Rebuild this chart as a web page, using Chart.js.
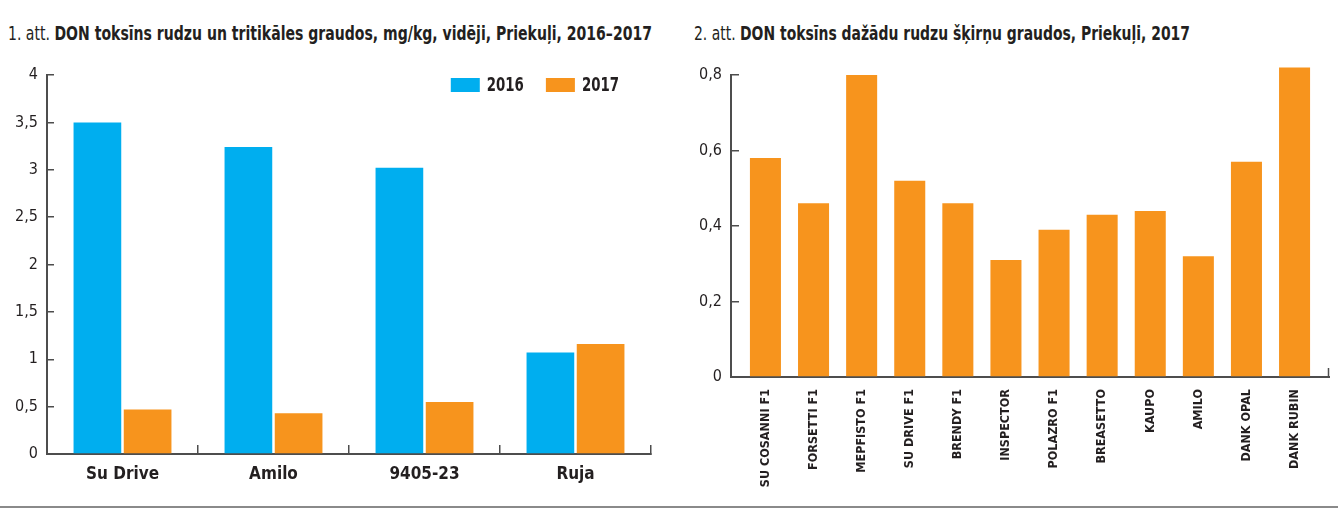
<!DOCTYPE html>
<html><head><meta charset="utf-8">
<script src="https://cdn.jsdelivr.net/npm/chart.js@4/dist/chart.umd.min.js"></script>
<style>
html,body{margin:0;padding:0;background:#fff;}
body{width:1338px;height:509px;position:relative;overflow:hidden;font-family:'Liberation Sans Narrow','DejaVu Sans Condensed',sans-serif;color:#231f20;}
.title{position:absolute;top:20px;font-size:20px;line-height:26px;white-space:nowrap;transform-origin:0 50%;}
#t1{left:8px;} #t2{left:694px;}
.wrap{position:absolute;top:0;width:669px;height:509px;}
#w1{left:0;} #w2{left:669px;}
#rule{position:absolute;left:0;top:506px;width:1338px;height:2px;background:#8a8a8a;}
</style>
</head><body>
<div class="title" id="t1" data-w="644">1. att. <b>DON toksīns rudzu un tritikāles graudos, mg/kg, vidēji, Priekuļi, 2016–2017</b></div>
<div class="title" id="t2" data-w="496">2. att. <b>DON toksīns dažādu rudzu šķirņu graudos, Priekuļi, 2017</b></div>
<div class="wrap" id="w1"><canvas id="c1" width="669" height="509"></canvas></div>
<div class="wrap" id="w2"><canvas id="c2" width="669" height="509"></canvas></div>
<div id="rule"></div>
<script>
// ---- data ----
const categories1 = ['Su Drive', 'Amilo', '9405-23', 'Ruja'];
const values2016 = [3.50, 3.24, 3.02, 1.07];
const values2017 = [0.47, 0.43, 0.55, 1.16];
const seriesLabels1 = ['2016', '2017'];

const categories2 = ['SU COSANNI F1', 'FORSETTI F1', 'MEPFISTO F1', 'SU DRIVE F1', 'BRENDY F1', 'INSPECTOR', 'POLAZRO F1', 'BREASETTO', 'KAUPO', 'AMILO', 'DANK OPAL', 'DANK RUBIN'];
const values2 = [0.58, 0.46, 0.80, 0.52, 0.46, 0.31, 0.39, 0.43, 0.44, 0.32, 0.57, 0.82];

const FONT = "'Liberation Sans Narrow','DejaVu Sans Condensed',sans-serif";
const BLUE = '#00aeef', ORANGE = '#f7941d', AXIS = '#4d4d4d', TEXT = '#231f20';

// fit the titles to the width they take in the original
document.querySelectorAll('.title').forEach(el => {
  const w = el.getBoundingClientRect().width;
  el.style.transform = 'scaleX(' + (parseFloat(el.dataset.w) / w) + ')';
});

const fmt = v => String(Math.round(v * 10) / 10).replace('.', ',');

const customLegend = {
  id: 'customLegend',
  afterDraw(chart, args, o) {
    if (!o || !o.show) return;
    const ctx = chart.ctx, ca = chart.chartArea;
    ctx.save();
    ctx.font = 'bold 19px ' + FONT;
    ctx.textBaseline = 'middle';
    const sx = o.textScale;
    const items = chart.data.datasets.map(d => ({ label: d.label, color: d.backgroundColor }));
    let x = ca.right - o.rightGap;
    const y = ca.top + o.topGap;
    for (let i = items.length - 1; i >= 0; i--) {
      const w = ctx.measureText(items[i].label).width * sx;
      x -= w; items[i].tx = x;
      x -= o.textGap; items[i].bx = x - o.boxW;
      x = items[i].bx - o.itemGap;
    }
    items.forEach(it => {
      ctx.fillStyle = it.color;
      ctx.fillRect(it.bx, y - o.boxH / 2, o.boxW, o.boxH);
      ctx.fillStyle = TEXT;
      ctx.save();
      ctx.translate(it.tx, y + 1);
      ctx.scale(sx, 1);
      ctx.fillText(it.label, 0, 0);
      ctx.restore();
    });
    ctx.restore();
  }
};

// inset the categories a little from both ends of the x axis, as in the original
const insetCategories = {
  id: 'insetCategories',
  afterLayout(chart, args, o) {
    if (!o || !o.inset) return;
    const s = chart.scales.x;
    s._startValue -= o.inset;
    s._valueRange += 2 * o.inset;
  },
  afterDraw(chart, args, o) {
    if (!o || !o.endTick) return;
    const ctx = chart.ctx, ca = chart.chartArea;
    ctx.save();
    ctx.strokeStyle = AXIS; ctx.lineWidth = 1.5;
    ctx.beginPath();
    ctx.moveTo(ca.right - 0.5, ca.bottom);
    ctx.lineTo(ca.right - 0.5, ca.bottom - o.endTick);
    ctx.stroke();
    ctx.restore();
  }
};

new Chart(document.getElementById('c1'), {
  type: 'bar',
  data: {
    labels: categories1,
    datasets: [
      { label: seriesLabels1[0], data: values2016, backgroundColor: BLUE },
      { label: seriesLabels1[1], data: values2017, backgroundColor: ORANGE }
    ]
  },
  options: {
    responsive: false, animation: false,
    layout: { padding: { top: 75, right: 18, left: 0, bottom: 0 } },
    datasets: { bar: { categoryPercentage: 0.665, barPercentage: 0.95 } },
    plugins: {
      legend: { display: false }, tooltip: { enabled: false },
      customLegend: { show: true, rightGap: 32, topGap: 10, textGap: 7, boxW: 29, boxH: 14, itemGap: 22, textScale: 0.78 }
    },
    scales: {
      x: {
        afterFit(s) { s.height = 55; },
        grid: { display: true, drawOnChartArea: false, offset: true, tickLength: -9, color: AXIS, lineWidth: 1.5 },
        border: { display: true, color: AXIS, width: 2 },
        ticks: { color: TEXT, font: { family: FONT, size: 17, weight: 'bold' }, padding: 19 }
      },
      y: {
        min: 0, max: 4,
        afterFit(s) { s.width = 47; },
        grid: { display: true, drawOnChartArea: false, tickLength: -7, color: AXIS, lineWidth: 1.5 },
        border: { display: true, color: AXIS, width: 2 },
        ticks: { stepSize: 0.5, color: TEXT, font: { family: FONT, size: 16 }, padding: 16, callback: fmt }
      }
    }
  },
  plugins: [customLegend]
});

new Chart(document.getElementById('c2'), {
  type: 'bar',
  data: {
    labels: categories2,
    datasets: [{ label: '2017', data: values2, backgroundColor: ORANGE, clip: false }]
  },
  options: {
    responsive: false, animation: false,
    layout: { padding: { top: 75, right: 9, left: 0, bottom: 0 } },
    datasets: { bar: { categoryPercentage: 1, barPercentage: 0.645 } },
    plugins: {
      legend: { display: false }, tooltip: { enabled: false },
      insetCategories: { inset: 0.216, endTick: 9 }
    },
    scales: {
      x: {
        afterFit(s) { s.height = 132; },
        grid: { display: false },
        border: { display: true, color: AXIS, width: 2 },
        ticks: { color: TEXT, font: { family: FONT, size: 12.5, weight: 'bold' }, padding: 4,
                 minRotation: 90, maxRotation: 90, autoSkip: false }
      },
      y: {
        min: 0, max: 0.8,
        afterFit(s) { s.width = 62; },
        grid: { display: true, drawOnChartArea: false, tickLength: -8, color: AXIS, lineWidth: 1.5 },
        border: { display: true, color: AXIS, width: 2 },
        ticks: { stepSize: 0.2, color: TEXT, font: { family: FONT, size: 16 }, padding: 17, callback: fmt }
      }
    }
  },
  plugins: [insetCategories]
});
</script>
</body></html>
